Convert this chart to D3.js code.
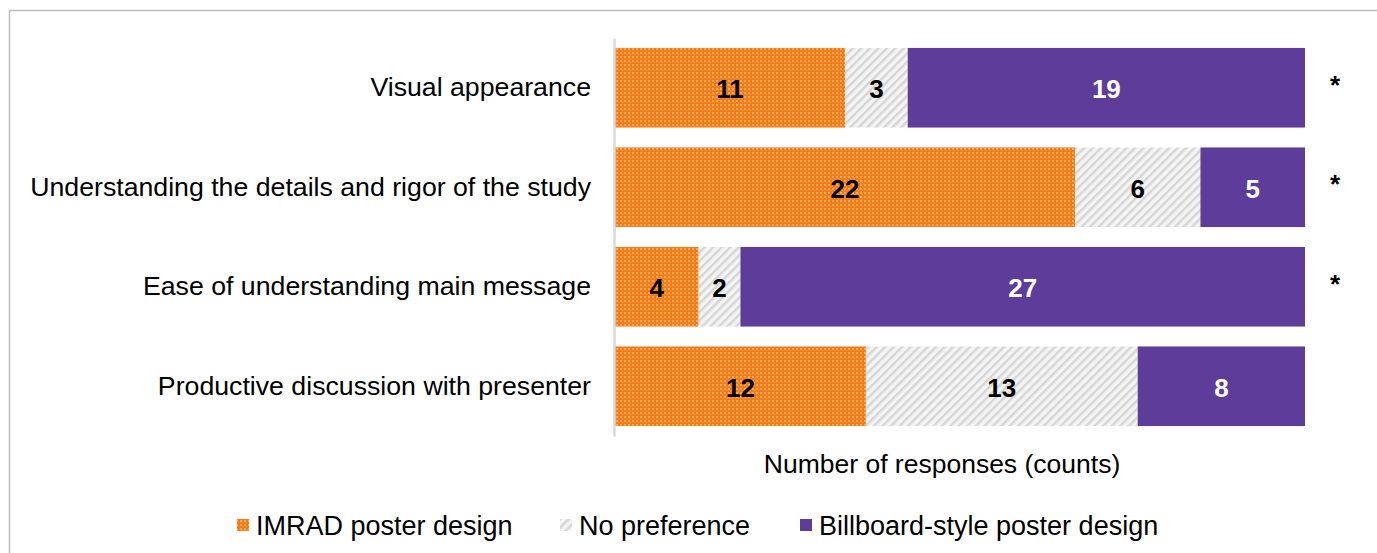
<!DOCTYPE html>
<html>
<head>
<meta charset="utf-8">
<script src="https://cdn.jsdelivr.net/npm/d3@7"></script>
<style>
  html, body { margin: 0; padding: 0; background: #fff; }
  svg { display: block; font-family: "Liberation Sans", Arial, sans-serif; }
</style>
</head>
<body>
<svg id="chart" width="1377" height="553"></svg>
<script>
// Survey items (top to bottom)
const categories = [
  "Visual appearance",
  "Understanding the details and rigor of the study",
  "Ease of understanding main message",
  "Productive discussion with presenter"
];
// Response counts per design preference
const imrad     = [11, 22, 4, 12];
const noPref    = [3, 6, 2, 13];
const billboard = [19, 5, 27, 8];
// Items with a significant difference
const significant = [true, true, true, false];

const seriesNames = ["IMRAD poster design", "No preference", "Billboard-style poster design"];
const seriesValues = [imrad, noPref, billboard];
const seriesFills = ["url(#pat-imrad)", "url(#pat-none)", "#5e3c99"];
const labelColors = ["#000", "#000", "#fff"];

const svg = d3.select("#chart");
const defs = svg.append("defs");

// Orange dotted fill
const pImrad = defs.append("pattern").attr("id", "pat-imrad")
  .attr("patternUnits", "userSpaceOnUse").attr("width", 4).attr("height", 4);
pImrad.append("rect").attr("width", 4).attr("height", 4).attr("fill", "#f07c1c");
pImrad.append("rect").attr("x", 0).attr("y", 0).attr("width", 2).attr("height", 2).attr("fill", "#fba853");
pImrad.append("rect").attr("x", 2).attr("y", 2).attr("width", 1).attr("height", 1).attr("fill", "#f6963c");

// Light grey diagonal hatching
const pNone = defs.append("pattern").attr("id", "pat-none")
  .attr("patternUnits", "userSpaceOnUse").attr("width", 6).attr("height", 6)
  .attr("patternTransform", "rotate(45)");
pNone.append("rect").attr("width", 6).attr("height", 6).attr("fill", "#f4f4f4");
pNone.append("rect").attr("x", 0).attr("y", 0).attr("width", 2.5).attr("height", 6).attr("fill", "#d6d6d6");

// Outer frame
svg.append("path")
  .attr("d", "M9.5,553 L9.5,10.5 L1377,10.5")
  .attr("fill", "none").attr("stroke", "#bfbfbf").attr("stroke-width", 1.5);

const x = d3.scaleLinear().domain([0, 33]).range([615, 1305]);
const y = d3.scaleBand().domain(categories).range([38, 436]).paddingInner(0.2).paddingOuter(0.1);

// Stack the series per item
const rows = categories.map((c, i) => {
  let acc = 0;
  return seriesValues.map((vals, s) => {
    const d = { cat: c, s, v: vals[i], x0: acc, x1: acc + vals[i] };
    acc += vals[i];
    return d;
  });
});

const g = svg.append("g");
rows.forEach(row => {
  g.selectAll(null).data(row).enter().append("rect")
    .attr("x", d => x(d.x0))
    .attr("y", d => y(d.cat))
    .attr("width", d => x(d.x1) - x(d.x0))
    .attr("height", y.bandwidth())
    .attr("fill", d => seriesFills[d.s]);
  g.selectAll(null).data(row).enter().append("text")
    .attr("x", d => (x(d.x0) + x(d.x1)) / 2)
    .attr("y", d => y(d.cat) + y.bandwidth() / 2)
    .attr("dy", "0.4em")
    .attr("text-anchor", "middle")
    .attr("font-size", 26).attr("font-weight", "bold")
    .attr("fill", d => labelColors[d.s])
    .text(d => d.v);
});

// Category axis
const yAxis = svg.append("g").attr("transform", "translate(614,0)")
  .call(d3.axisLeft(y).tickSize(0).tickPadding(23));
yAxis.select(".domain").attr("stroke", "#d9d9d9").attr("stroke-width", 2.5);
yAxis.selectAll("text").attr("font-size", 26.7).attr("fill", "#000")
  .attr("font-family", "Liberation Sans, Arial, sans-serif");

// Significance markers
svg.selectAll(".sig").data(categories.filter((c, i) => significant[i])).enter()
  .append("text")
  .attr("x", 1335).attr("y", d => y(d) + y.bandwidth() / 2 + 6)
  .attr("text-anchor", "middle").attr("font-size", 26).attr("font-weight", "bold")
  .text("*");

// Axis title
svg.append("text").attr("x", 942).attr("y", 473).attr("text-anchor", "middle")
  .attr("font-size", 26.5).attr("fill", "#000").text("Number of responses (counts)");

// Legend
const legendX = [237, 560, 800];
const legend = svg.append("g");
seriesNames.forEach((n, i) => {
  legend.append("rect").attr("x", legendX[i]).attr("y", 519).attr("width", 12).attr("height", 12)
    .attr("fill", seriesFills[i]);
  legend.append("text").attr("x", legendX[i] + 19).attr("y", 535)
    .attr("font-size", 27).attr("fill", "#000").text(n);
});
</script>
</body>
</html>
